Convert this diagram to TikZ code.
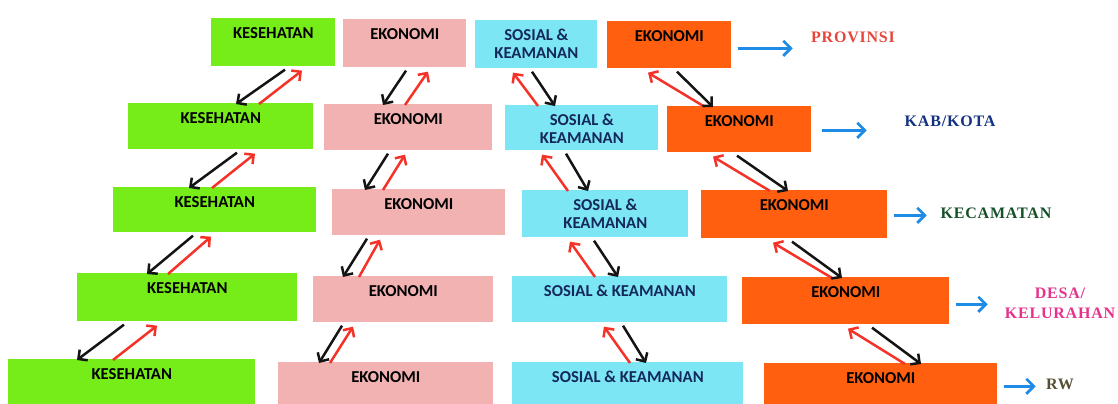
\documentclass[tikz,border=0pt]{standalone}
\usepackage{fontspec}
\setmainfont{Liberation Serif}
\newfontfamily\boxfont{Carlito}
\newfontfamily\levelfont{Liberation Serif}[LetterSpace=5]
\usetikzlibrary{arrows.meta, calc}
\definecolor{kes_green}{RGB}{118, 236, 24}
\definecolor{eko_pink}{RGB}{242, 178, 178}
\definecolor{sos_cyan}{RGB}{125, 230, 245}
\definecolor{sos_text}{RGB}{20, 40, 90}
\definecolor{eko_orange}{RGB}{255, 95, 15}
\definecolor{arrow_red}{RGB}{245, 50, 40}
\definecolor{arrow_black}{RGB}{20, 20, 20}
\definecolor{arrow_blue}{RGB}{30, 140, 230}
\definecolor{prov_red}{RGB}{230, 70, 60}
\definecolor{kab_blue}{RGB}{20, 50, 130}
\definecolor{kec_green}{RGB}{20, 80, 40}
\definecolor{desa_pink}{RGB}{230, 50, 140}
\definecolor{rw_olive}{RGB}{85, 80, 50}

\begin{document}
\begin{tikzpicture}[x=0.6pt, y=-0.6pt,
    font=\boxfont\bfseries\fontsize{10}{10.8}\selectfont,
    unit/.style={rectangle, inner sep=0pt, anchor=north west, align=center, text height=12pt},
    twoline/.style={text height=22.8pt},
    turun/.style={line width=1.5pt, arrow_black, -{Straight Barb[length=4pt, width=8pt]}},
    naik/.style={line width=1.5pt, arrow_red, -{Straight Barb[length=4pt, width=8pt]}},
    lanjut/.style={line width=1.6pt, arrow_blue, -{Straight Barb[length=4.5pt, width=9pt]}},
    tag/.style={font=\levelfont\bfseries\fontsize{9.6}{12}\selectfont, align=center}]

      \useasboundingbox (0,0) rectangle (1118,403);

      % 1. KOTAK per tingkat (kesehatan, ekonomi, sosial, ekonomi)
      % Provinsi
      \node[unit, fill=kes_green, minimum width=74.4pt, text depth=16.8pt] (kes1) at (211,18) {KESEHATAN};
      \node[unit, fill=eko_pink, minimum width=73.8pt, text depth=16.8pt] (eko1) at (343,19) {EKONOMI};
      \node[unit, twoline, fill=sos_cyan, text=sos_text, minimum width=73.2pt, text depth=6pt] (sos1) at (475,20) {SOSIAL \&\\KEAMANAN};
      \node[unit, fill=eko_orange, minimum width=74.4pt, text depth=16.2pt] (ekb1) at (607,21) {EKONOMI};

      % Kab/Kota
      \node[unit, fill=kes_green, minimum width=111pt, text depth=15.6pt] (kes2) at (128,103) {KESEHATAN};
      \node[unit, fill=eko_pink, minimum width=100.8pt, text depth=15.6pt] (eko2) at (324,104) {EKONOMI};
      \node[unit, twoline, fill=sos_cyan, text=sos_text, minimum width=91.8pt, text depth=4.2pt] (sos2) at (505,105) {SOSIAL \&\\KEAMANAN};
      \node[unit, fill=eko_orange, minimum width=86.4pt, text depth=15.6pt] (ekb2) at (667,106) {EKONOMI};

      % Kecamatan
      \node[unit, fill=kes_green, minimum width=121.8pt, text depth=15pt] (kes3) at (113,187) {KESEHATAN};
      \node[unit, fill=eko_pink, minimum width=103.8pt, text depth=15.6pt] (eko3) at (332,189) {EKONOMI};
      \node[unit, twoline, fill=sos_cyan, text=sos_text, minimum width=99.6pt, text depth=5.4pt] (sos3) at (522,190) {SOSIAL \&\\KEAMANAN};
      \node[unit, fill=eko_orange, minimum width=111.6pt, text depth=16.8pt] (ekb3) at (701,190) {EKONOMI};

      % Desa/Kelurahan
      \node[unit, fill=kes_green, minimum width=132pt, text depth=16.8pt] (kes4) at (77,273) {KESEHATAN};
      \node[unit, fill=eko_pink, minimum width=108pt, text depth=15.6pt] (eko4) at (313,276) {EKONOMI};
      \node[unit, fill=sos_cyan, text=sos_text, minimum width=129pt, text depth=15.6pt] (sos4) at (512,276) {SOSIAL \& KEAMANAN};
      \node[unit, fill=eko_orange, minimum width=124.2pt, text depth=16.2pt] (ekb4) at (742,277) {EKONOMI};

      % RW
      \node[unit, fill=kes_green, minimum width=148.2pt, text depth=18pt] (kes5) at (8,359) {KESEHATAN};
      \node[unit, fill=eko_pink, minimum width=129pt, text depth=16.2pt] (eko5) at (278,362) {EKONOMI};
      \node[unit, fill=sos_cyan, text=sos_text, minimum width=138.6pt, text depth=16.2pt] (sos5) at (512,362) {SOSIAL \& KEAMANAN};
      \node[unit, fill=eko_orange, minimum width=139.8pt, text depth=15.6pt] (ekb5) at (764,363) {EKONOMI};

      % 2. PANAH antar tingkat (hitam turun, merah naik)
      % Kesehatan
      \draw[turun] ($(kes1.south west)+(74,3)$) -- ($(kes2.north west)+(108,1)$);
      \draw[naik]  ($(kes2.north west)+(131,1)$) -- ($(kes1.south west)+(91,4)$);
      \draw[turun] ($(kes2.south west)+(109,3)$) -- ($(kes3.north west)+(76,1)$);
      \draw[naik]  ($(kes3.north west)+(99,1)$) -- ($(kes2.south west)+(127,4)$);
      \draw[turun] ($(kes3.south west)+(80,3)$) -- ($(kes4.north west)+(70,1)$);
      \draw[naik]  ($(kes4.north west)+(91,1)$) -- ($(kes3.south west)+(98,4)$);
      \draw[turun] ($(kes4.south west)+(47,3)$) -- ($(kes5.north west)+(69,1)$);
      \draw[naik]  ($(kes5.north west)+(105,1)$) -- ($(kes4.south west)+(80,4)$);

      % Ekonomi
      \draw[turun] ($(eko1.south west)+(63,3)$) -- ($(eko2.north west)+(59,1)$);
      \draw[naik]  ($(eko2.north west)+(81,1)$) -- ($(eko1.south west)+(85,4)$);
      \draw[turun] ($(eko2.south west)+(64,3)$) -- ($(eko3.north west)+(33,1)$);
      \draw[naik]  ($(eko3.north west)+(51,1)$) -- ($(eko2.south west)+(81,4)$);
      \draw[turun] ($(eko3.south west)+(35,3)$) -- ($(eko4.north west)+(30,1)$);
      \draw[naik]  ($(eko4.north west)+(46,1)$) -- ($(eko3.south west)+(48,4)$);
      \draw[turun] ($(eko4.south west)+(29,3)$) -- ($(eko5.north west)+(41,1)$);
      \draw[naik]  ($(eko5.north west)+(52,1)$) -- ($(eko4.south west)+(40,4)$);

      % Sosial & keamanan
      \draw[naik]  ($(sos2.north west)+(33,1)$) -- ($(sos1.south west)+(38,4)$);
      \draw[turun] ($(sos1.south west)+(57,3)$) -- ($(sos2.north west)+(50,1)$);
      \draw[naik]  ($(sos3.north west)+(46,1)$) -- ($(sos2.south west)+(37,4)$);
      \draw[turun] ($(sos2.south west)+(61,3)$) -- ($(sos3.north west)+(66,1)$);
      \draw[naik]  ($(sos4.north west)+(83,1)$) -- ($(sos3.south west)+(48,4)$);
      \draw[turun] ($(sos3.south west)+(72,3)$) -- ($(sos4.north west)+(106,1)$);
      \draw[naik]  ($(sos5.north west)+(118,1)$) -- ($(sos4.south west)+(92,4)$);
      \draw[turun] ($(sos4.south west)+(111,3)$) -- ($(sos5.north west)+(134,1)$);

      % Ekonomi (kanan)
      \draw[naik]  ($(ekb2.north west)+(38,1)$) -- ($(ekb1.south west)+(41,4)$);
      \draw[turun] ($(ekb1.south west)+(70,3)$) -- ($(ekb2.north west)+(46,1)$);
      \draw[naik]  ($(ekb3.north west)+(69,1)$) -- ($(ekb2.south west)+(46,4)$);
      \draw[turun] ($(ekb2.south west)+(70,3)$) -- ($(ekb3.north west)+(87,1)$);
      \draw[naik]  ($(ekb4.north west)+(90,1)$) -- ($(ekb3.south west)+(72,4)$);
      \draw[turun] ($(ekb3.south west)+(91,3)$) -- ($(ekb4.north west)+(100,1)$);
      \draw[naik]  ($(ekb5.north west)+(141,1)$) -- ($(ekb4.south west)+(106,4)$);
      \draw[turun] ($(ekb4.south west)+(130,3)$) -- ($(ekb5.north west)+(157,1)$);

      % 3. TINGKAT pemerintahan (panah biru y nama)
      \draw[lanjut] ($(ekb1.east)+(6,3.5)$) -- ++(55,0);
      \draw[lanjut] ($(ekb2.east)+(10,1)$) -- ++(45,0);
      \draw[lanjut] ($(ekb3.east)+(6,1)$) -- ++(33,0);
      \draw[lanjut] ($(ekb4.east)+(6,3.5)$) -- ++(32,0);
      \draw[lanjut] ($(ekb5.east)+(6,0)$) -- ++(32,0);

      \node[tag, text=prov_red] (prov) at (853,37) {PROVINSI};
      \node[tag, text=kab_blue] (kab) at (950,121) {KAB/KOTA};
      \node[tag, text=kec_green] (kec) at (996,213) {KECAMATAN};
      \node[tag, text=desa_pink] (desa) at (1060,303) {DESA/\\KELURAHAN};
      \node[tag, text=rw_olive] (rw) at (1060,384) {RW};

    \end{tikzpicture}
\end{document}
